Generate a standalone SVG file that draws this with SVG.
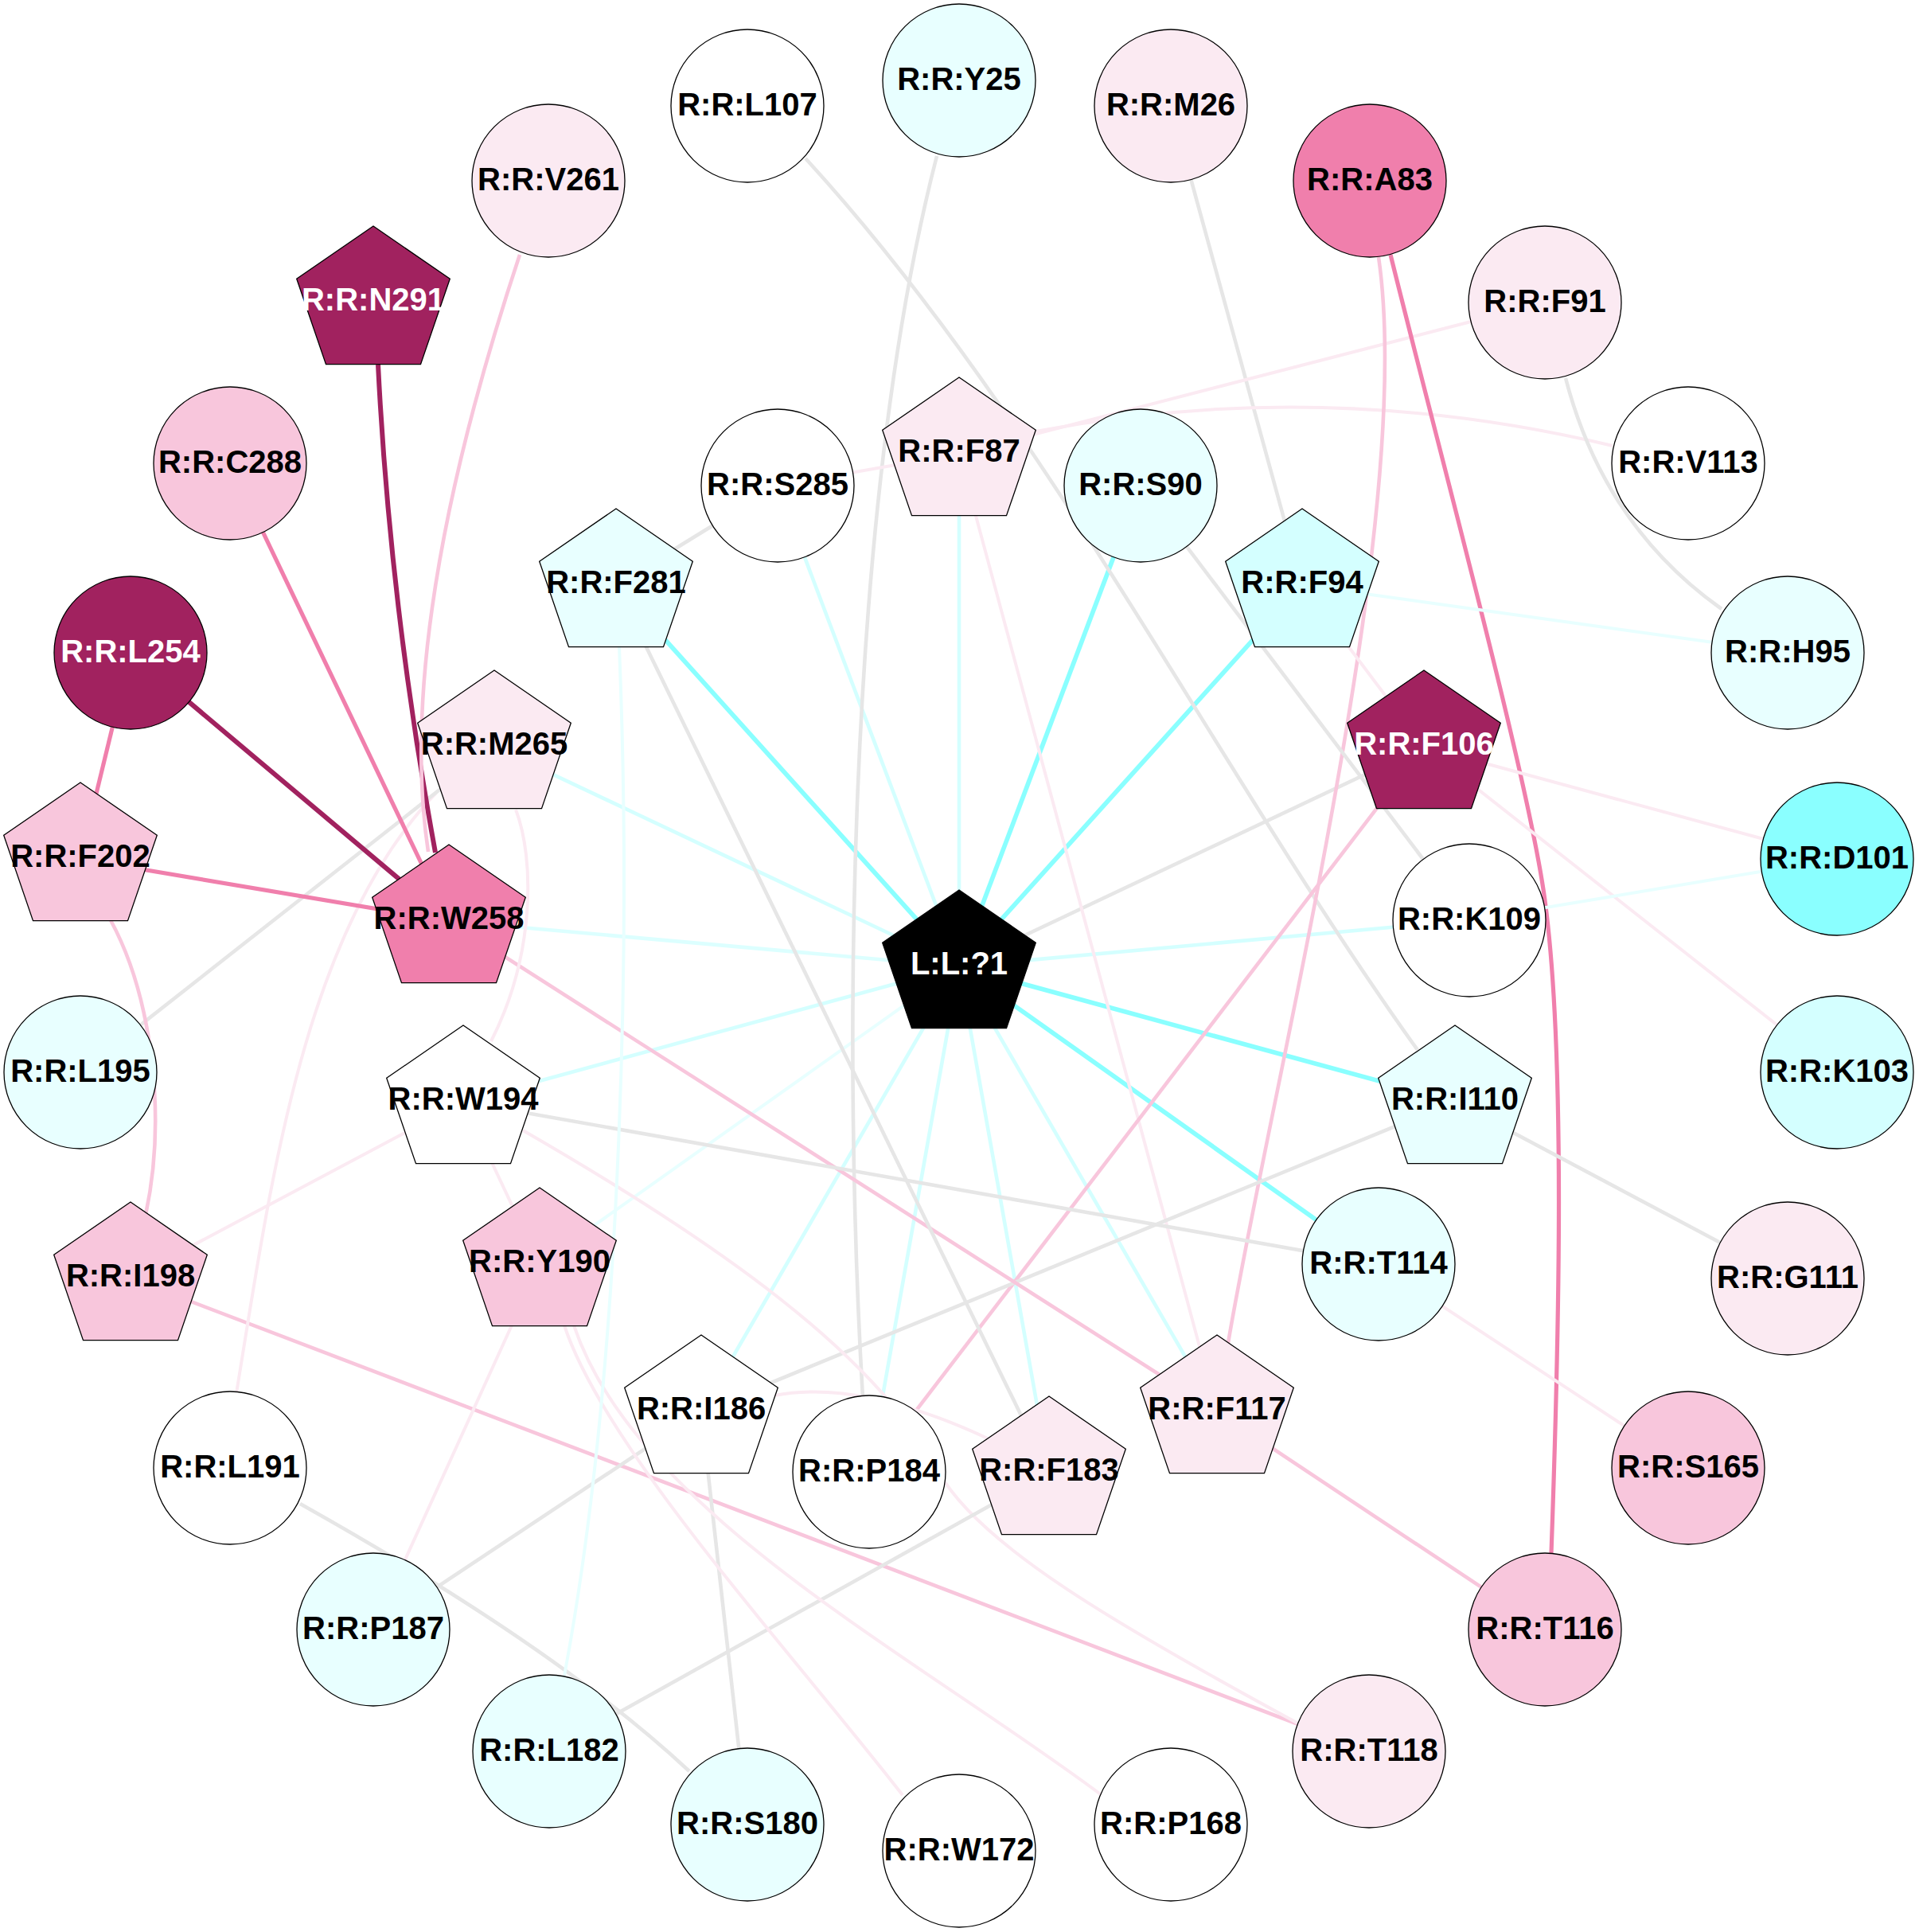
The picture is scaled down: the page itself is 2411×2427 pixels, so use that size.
<svg xmlns="http://www.w3.org/2000/svg" xmlns:xlink="http://www.w3.org/1999/xlink" width="2411" height="2427" viewBox="0 0 2411 2427">
<style>
.n{stroke:#000;stroke-width:1.3}
.t{font-family:"Liberation Sans",Arial,sans-serif;font-weight:bold;font-size:40px;text-anchor:middle;fill:#000}
.tw{fill:#fff}
.fw{fill:#ffffff}.fc1{fill:#e8ffff}.fc2{fill:#d4ffff}.fc3{fill:#8affff}
.fp1{fill:#fbeaf2}.fp2{fill:#f8c6dc}.fp3{fill:#f07fac}.fd{fill:#a1225f}.fk{fill:#000000}
#edges path,#edges line{fill:none}
.ek{stroke:#e6e6e6;stroke-width:4.6}
.ec3{stroke:#8affff;stroke-width:5.7}
.ec2{stroke:#d4ffff;stroke-width:4.6}
.ec1{stroke:#e8ffff;stroke-width:4}
.ecw{stroke:#dcffff;stroke-width:4.6}
.ep1{stroke:#fbeaf2;stroke-width:4}
.ep2{stroke:#f8c6dc;stroke-width:4.6}
.ep3{stroke:#f07fac;stroke-width:5.2}
.ed{stroke:#a1225f;stroke-width:6}
</style>
<defs>
<circle id="c" r="96"/>
<polygon id="p" points="0,-96 96.3,-29.7 59.5,77.7 -59.5,77.7 -96.3,-29.7"/>
</defs>
<rect width="2411" height="2427" fill="#fff"/>
<g id="edges">
<line class="ec3" x1="1205" y1="1214" x2="774" y2="735"/>
<line class="ec2" x1="1205" y1="1214" x2="977" y2="610"/>
<line class="ec2" x1="1205" y1="1214" x2="1205" y2="570"/>
<line class="ec3" x1="1205" y1="1214" x2="1433" y2="610"/>
<line class="ec3" x1="1205" y1="1214" x2="1636" y2="735"/>
<line class="ec2" x1="1205" y1="1214" x2="621" y2="938"/>
<line class="ecw" x1="1205" y1="1214" x2="564" y2="1157"/>
<line class="ec2" x1="1205" y1="1214" x2="1846" y2="1156"/>
<line class="ec2" x1="1205" y1="1214" x2="582" y2="1384"/>
<line class="ec3" x1="1205" y1="1214" x2="1828" y2="1384"/>
<line class="ec3" x1="1205" y1="1214" x2="1732" y2="1588"/>
<line class="ec1" x1="1205" y1="1214" x2="678" y2="1588"/>
<line class="ec2" x1="1205" y1="1214" x2="881" y2="1773"/>
<line class="ec2" x1="1205" y1="1214" x2="1092" y2="1849"/>
<line class="ec2" x1="1205" y1="1214" x2="1318" y2="1850"/>
<line class="ec2" x1="1205" y1="1214" x2="1529" y2="1773"/>
<line class="ek" x1="1205" y1="1214" x2="1789" y2="938"/>
<path class="ek" d="M1012,199 C1312,526 1531,971 1781,1319"/>
<path class="ek" d="M1177,196 C1060,650 1060,1350 1084,1756"/>
<line class="ek" x1="1471" y1="133" x2="1636" y2="735"/>
<line class="ep1" x1="1205" y1="570" x2="1941" y2="380"/>
<path class="ep1" d="M1301,542 Q1662,473 2026,560"/>
<line class="ep1" x1="1205" y1="570" x2="977" y2="610"/>
<line class="ep1" x1="1205" y1="570" x2="1529" y2="1773"/>
<path class="ep2" d="M1732,323 C1780,650 1600,1350 1543,1687"/>
<path class="ep3" d="M1747,320 C1814,590 1921,981 1941,1131 C1968,1331 1958,1700 1949,1951"/>
<path class="ek" d="M1967,475 Q2015,660 2163,765"/>
<line class="ec1" x1="1636" y1="735" x2="2246" y2="820"/>
<line class="ep1" x1="1636" y1="735" x2="1789" y2="938"/>
<line class="ep1" x1="1789" y1="938" x2="2308" y2="1079"/>
<line class="ep1" x1="1789" y1="938" x2="2308" y2="1347"/>
<line class="ep2" x1="1789" y1="938" x2="1092" y2="1849"/>
<line class="ec1" x1="1846" y1="1156" x2="2308" y2="1079"/>
<line class="ek" x1="1433" y1="610" x2="1846" y2="1156"/>
<line class="ek" x1="1828" y1="1384" x2="2246" y2="1606"/>
<line class="ek" x1="881" y1="1773" x2="1828" y2="1384"/>
<line class="ep1" x1="1732" y1="1588" x2="2121" y2="1844"/>
<line class="ep2" x1="1529" y1="1773" x2="1941" y2="2047"/>
<line class="ep2" x1="564" y1="1157" x2="1529" y2="1773"/>
<line class="ep2" x1="164" y1="1606" x2="1720" y2="2200"/>
<line class="ek" x1="582" y1="1384" x2="1732" y2="1588"/>
<path class="ep1" d="M657,1420 C900,1560 1100,1700 1180,1850 C1230,1940 1400,2040 1631,2165"/>
<path class="ep1" d="M973,1753 Q1080,1732 1241,1807"/>
<line class="ek" x1="881" y1="1773" x2="939" y2="2292"/>
<line class="ek" x1="881" y1="1773" x2="469" y2="2047"/>
<line class="ek" x1="690" y1="2200" x2="1318" y2="1850"/>
<path class="ek" d="M377,1889 Q700,2070 866,2225"/>
<line class="ep1" x1="678" y1="1588" x2="469" y2="2047"/>
<path class="ep1" d="M709,1665 C760,1820 990,2070 1134,2255"/>
<path class="ep1" d="M721,1665 C800,1900 1150,2080 1384,2255"/>
<line class="ep1" x1="582" y1="1384" x2="678" y2="1588"/>
<path class="ep1" d="M648,1017 C672,1080 672,1200 617,1308"/>
<path class="ep1" d="M548,996 C380,1170 339,1495 297,1750"/>
<line class="ek" x1="101" y1="1347" x2="621" y2="938"/>
<line class="ep1" x1="164" y1="1606" x2="582" y2="1384"/>
<path class="ep2" d="M139,1156 C190,1250 210,1400 183,1526"/>
<line class="ep3" x1="101" y1="1079" x2="564" y2="1157"/>
<line class="ep3" x1="164" y1="820" x2="101" y2="1079"/>
<line class="ed" x1="164" y1="820" x2="564" y2="1157"/>
<path class="ed" d="M475,458 Q490,760 547,1071"/>
<line class="ep3" x1="289" y1="582" x2="564" y2="1157"/>
<path class="ep2" d="M653,320 C570,570 505,850 538,1070"/>
<line class="ek" x1="774" y1="735" x2="977" y2="610"/>
<line class="ek" x1="774" y1="735" x2="1318" y2="1850"/>
<path class="ec1" d="M778,813 C792,1150 785,1700 709,2105"/>
</g>
<g id="nodes">
<g id="n-Y25" transform="translate(1205,101)"><use xlink:href="#c" class="n fc1"/><text class="t" y="12">R:R:Y25</text></g>
<g id="n-L107" transform="translate(939,133)"><use xlink:href="#c" class="n fw"/><text class="t" y="12">R:R:L107</text></g>
<g id="n-M26" transform="translate(1471,133)"><use xlink:href="#c" class="n fp1"/><text class="t" y="12">R:R:M26</text></g>
<g id="n-V261" transform="translate(689,227)"><use xlink:href="#c" class="n fp1"/><text class="t" y="12">R:R:V261</text></g>
<g id="n-A83" transform="translate(1721,227)"><use xlink:href="#c" class="n fp3"/><text class="t" y="12">R:R:A83</text></g>
<g id="n-F91" transform="translate(1941,380)"><use xlink:href="#c" class="n fp1"/><text class="t" y="12">R:R:F91</text></g>
<g id="n-C288" transform="translate(289,582)"><use xlink:href="#c" class="n fp2"/><text class="t" y="12">R:R:C288</text></g>
<g id="n-V113" transform="translate(2121,582)"><use xlink:href="#c" class="n fw"/><text class="t" y="12">R:R:V113</text></g>
<g id="n-L254" transform="translate(164,820)"><use xlink:href="#c" class="n fd"/><text class="t tw" y="12">R:R:L254</text></g>
<g id="n-H95" transform="translate(2246,820)"><use xlink:href="#c" class="n fc1"/><text class="t" y="12">R:R:H95</text></g>
<g id="n-D101" transform="translate(2308,1079)"><use xlink:href="#c" class="n fc3"/><text class="t" y="12">R:R:D101</text></g>
<g id="n-L195" transform="translate(101,1347)"><use xlink:href="#c" class="n fc1"/><text class="t" y="12">R:R:L195</text></g>
<g id="n-K103" transform="translate(2308,1347)"><use xlink:href="#c" class="n fc2"/><text class="t" y="12">R:R:K103</text></g>
<g id="n-G111" transform="translate(2246,1606)"><use xlink:href="#c" class="n fp1"/><text class="t" y="12">R:R:G111</text></g>
<g id="n-L191" transform="translate(289,1844)"><use xlink:href="#c" class="n fw"/><text class="t" y="12">R:R:L191</text></g>
<g id="n-S165" transform="translate(2121,1844)"><use xlink:href="#c" class="n fp2"/><text class="t" y="12">R:R:S165</text></g>
<g id="n-P187" transform="translate(469,2047)"><use xlink:href="#c" class="n fc1"/><text class="t" y="12">R:R:P187</text></g>
<g id="n-T116" transform="translate(1941,2047)"><use xlink:href="#c" class="n fp2"/><text class="t" y="12">R:R:T116</text></g>
<g id="n-L182" transform="translate(690,2200)"><use xlink:href="#c" class="n fc1"/><text class="t" y="12">R:R:L182</text></g>
<g id="n-T118" transform="translate(1720,2200)"><use xlink:href="#c" class="n fp1"/><text class="t" y="12">R:R:T118</text></g>
<g id="n-S180" transform="translate(939,2292)"><use xlink:href="#c" class="n fc1"/><text class="t" y="12">R:R:S180</text></g>
<g id="n-P168" transform="translate(1471,2292)"><use xlink:href="#c" class="n fw"/><text class="t" y="12">R:R:P168</text></g>
<g id="n-W172" transform="translate(1205,2325)"><use xlink:href="#c" class="n fw"/><text class="t" y="12">R:R:W172</text></g>
<g id="n-S285" transform="translate(977,610)"><use xlink:href="#c" class="n fw"/><text class="t" y="12">R:R:S285</text></g>
<g id="n-S90" transform="translate(1433,610)"><use xlink:href="#c" class="n fc1"/><text class="t" y="12">R:R:S90</text></g>
<g id="n-K109" transform="translate(1846,1156)"><use xlink:href="#c" class="n fw"/><text class="t" y="12">R:R:K109</text></g>
<g id="n-T114" transform="translate(1732,1588)"><use xlink:href="#c" class="n fc1"/><text class="t" y="12">R:R:T114</text></g>
<g id="n-P184" transform="translate(1092,1849)"><use xlink:href="#c" class="n fw"/><text class="t" y="12">R:R:P184</text></g>
<g id="n-N291" transform="translate(469,380)"><use xlink:href="#p" class="n fd"/><text class="t tw" y="10">R:R:N291</text></g>
<g id="n-F87" transform="translate(1205,570)"><use xlink:href="#p" class="n fp1"/><text class="t" y="10">R:R:F87</text></g>
<g id="n-F281" transform="translate(774,735)"><use xlink:href="#p" class="n fc1"/><text class="t" y="10">R:R:F281</text></g>
<g id="n-F94" transform="translate(1636,735)"><use xlink:href="#p" class="n fc2"/><text class="t" y="10">R:R:F94</text></g>
<g id="n-M265" transform="translate(621,938)"><use xlink:href="#p" class="n fp1"/><text class="t" y="10">R:R:M265</text></g>
<g id="n-F106" transform="translate(1789,938)"><use xlink:href="#p" class="n fd"/><text class="t tw" y="10">R:R:F106</text></g>
<g id="n-F202" transform="translate(101,1079)"><use xlink:href="#p" class="n fp2"/><text class="t" y="10">R:R:F202</text></g>
<g id="n-W258" transform="translate(564,1157)"><use xlink:href="#p" class="n fp3"/><text class="t" y="10">R:R:W258</text></g>
<g id="n-L1" transform="translate(1205,1214)"><use xlink:href="#p" class="n fk"/><text class="t tw" y="10">L:L:?1</text></g>
<g id="n-W194" transform="translate(582,1384)"><use xlink:href="#p" class="n fw"/><text class="t" y="10">R:R:W194</text></g>
<g id="n-I110" transform="translate(1828,1384)"><use xlink:href="#p" class="n fc1"/><text class="t" y="10">R:R:I110</text></g>
<g id="n-I198" transform="translate(164,1606)"><use xlink:href="#p" class="n fp2"/><text class="t" y="10">R:R:I198</text></g>
<g id="n-Y190" transform="translate(678,1588)"><use xlink:href="#p" class="n fp2"/><text class="t" y="10">R:R:Y190</text></g>
<g id="n-I186" transform="translate(881,1773)"><use xlink:href="#p" class="n fw"/><text class="t" y="10">R:R:I186</text></g>
<g id="n-F117" transform="translate(1529,1773)"><use xlink:href="#p" class="n fp1"/><text class="t" y="10">R:R:F117</text></g>
<g id="n-F183" transform="translate(1318,1850)"><use xlink:href="#p" class="n fp1"/><text class="t" y="10">R:R:F183</text></g>
</g>
</svg>
